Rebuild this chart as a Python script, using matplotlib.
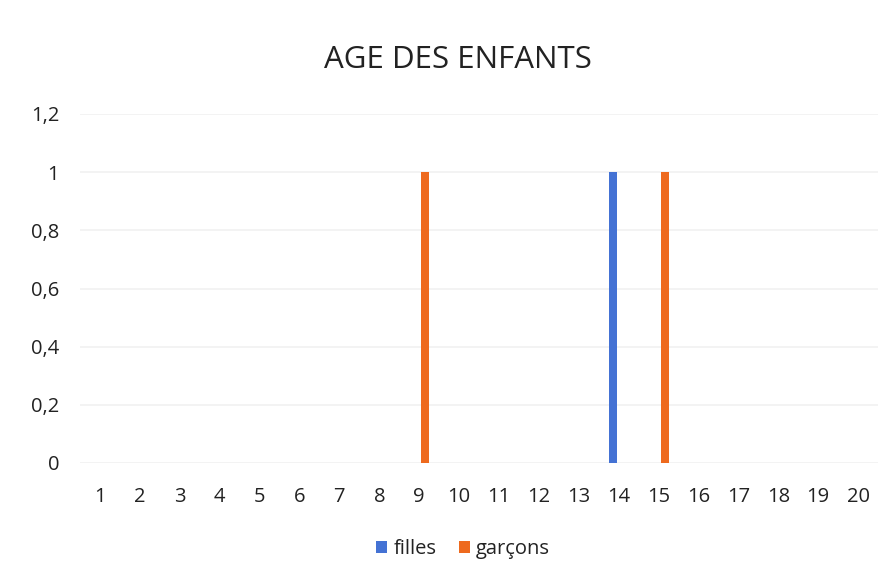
import matplotlib
matplotlib.use("Agg")
import matplotlib.pyplot as plt
import numpy as np

plt.rcParams['font.family'] = ['Open Sans', 'DejaVu Sans']

categories = [str(i) for i in range(1, 21)]
filles = [0, 0, 0, 0, 0, 0, 0, 0, 0, 0, 0, 0, 0, 1, 0, 0, 0, 0, 0, 0]
garcons = [0, 0, 0, 0, 0, 0, 0, 0, 1, 0, 0, 0, 0, 0, 1, 0, 0, 0, 0, 0]
y_ticks = [0, 0.2, 0.4, 0.6, 0.8, 1.0, 1.2]
y_labels = ["0", "0,2", "0,4", "0,6", "0,8", "1", "1,2"]

c_blue = "#4472D4"
c_orange = "#EE6A1E"

fig = plt.figure(figsize=(8.96, 5.8), dpi=100)
ax = fig.add_axes([80/896, (580-463)/580, (878-80)/896, (463-114)/580])

x = np.arange(len(categories))
w = 0.2
ax.bar(x - 0.15, filles, width=w, color=c_blue, label="filles", zorder=3)
ax.bar(x + 0.15, garcons, width=w, color=c_orange, label="garçons", zorder=3)

ax.set_xlim(-0.5, len(categories) - 0.5)
ax.set_ylim(0, 1.2)
ax.set_yticks(y_ticks)
ax.set_yticklabels(y_labels)
ax.set_xticks(x)
ax.set_xticklabels(categories)
ax.tick_params(axis='both', length=0, labelsize=14.5, colors="#222222")
ax.tick_params(axis='x', pad=17)
ax.tick_params(axis='y', pad=15)
for lab in ax.get_yticklabels():
    lab.set_horizontalalignment('right')

ax.grid(axis='y', color="#f1f1f1", linewidth=1.2, zorder=0)
for s in ax.spines.values():
    s.set_visible(False)

fig.text(458/896, 1 - 60/580, "AGE DES ENFANTS", ha='center', va='center',
         fontsize=22.5, color="#222222")

leg = fig.legend(loc='center', bbox_to_anchor=(463/896, 1 - 549/580), ncol=2,
                 frameon=False, fontsize=14.5, handlelength=0.55, handleheight=0.55,
                 handletextpad=0.3, columnspacing=1.1)
for t in leg.get_texts():
    t.set_color("#222222")

fig.savefig("out.png", dpi=100, facecolor="white")
